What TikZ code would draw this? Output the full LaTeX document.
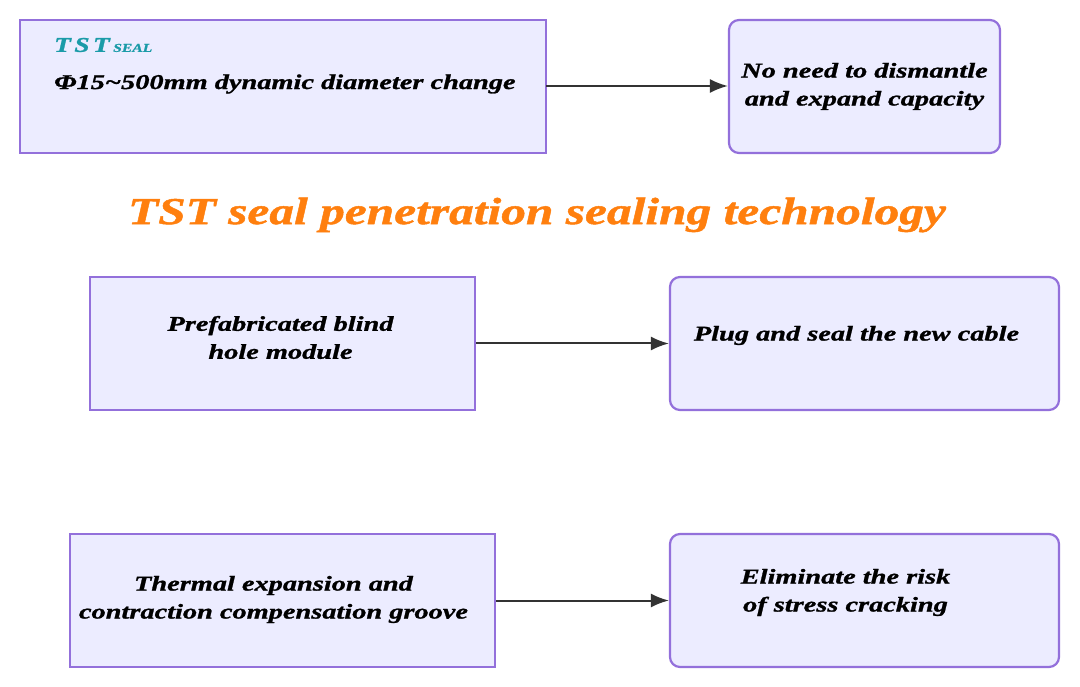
\documentclass[tikz,border=0pt]{standalone}
\usepackage{fontspec}
\setmainfont{Liberation Serif}
\newfontfamily\wide[FakeStretch=1.35,FakeBold=1.2]{Liberation Serif}
\newfontfamily\widet[FakeStretch=1.3,FakeBold=1.2]{Liberation Serif}
\usetikzlibrary{arrows.meta}
\begin{document}
\begin{tikzpicture}[x=1pt,y=-1pt,
 box/.style={draw=boxline,fill=boxfill,line width=2.2pt,inner sep=0pt},
 rbox/.style={box,rounded corners=10pt},
 lbl/.style={font=\wide\fontsize{21}{28}\selectfont\bfseries\itshape,align=center,text=black},
 arr/.style={draw=arrc,line width=2pt,-{Latex[length=18pt,width=14pt]}}]
\definecolor{boxline}{HTML}{9370DB}
\definecolor{boxfill}{HTML}{ECECFF}
\definecolor{arrc}{HTML}{333333}
\definecolor{orng}{HTML}{FF7F0E}
\definecolor{teal1}{HTML}{1A9BA8}
\useasboundingbox (0,0) rectangle (1080,687);
\draw[box] (20,20) rectangle (546,153);
\coordinate (Ar) at (546,86);
\node[anchor=west,font=\widet\fontsize{21}{24}\selectfont\bfseries\itshape,text=teal1,inner sep=0pt] (logo) at (54,45) {T\,S\,T\,{\fontsize{12}{14}\selectfont SEAL}};
\node[lbl,anchor=west,inner sep=0pt] (at) at (54,84) {Φ15\textasciitilde500mm dynamic diameter change};
\node[rbox,minimum width=271pt,minimum height=133pt] (B) at (864.5,86.5) {};
\node[lbl] at (B) {No need to dismantle\\and expand capacity};
\draw[arr] (Ar) -- (B.west |- Ar);
\node[font=\widet\fontsize{38}{40}\selectfont\bfseries\itshape,text=orng] (title) at (537,215) {TST seal penetration sealing technology};
\node[box,minimum width=385pt,minimum height=133pt] (C) at (282.5,343.5) {};
\node[lbl] at ([xshift=-2pt,yshift=6pt]C) {Prefabricated blind\\hole module};
\node[rbox,minimum width=389pt,minimum height=133pt] (D) at (864.5,343.5) {};
\node[lbl] at ([xshift=-8pt,yshift=8pt]D) {Plug and seal the new cable};
\draw[arr] (C) -- (D);
\node[box,minimum width=425pt,minimum height=133pt] (E) at (282.5,600.5) {};
\node[lbl] at ([xshift=-9pt,yshift=1pt]E) {Thermal expansion and\\contraction compensation groove};
\node[rbox,minimum width=389pt,minimum height=133pt] (F) at (864.5,600.5) {};
\node[lbl] at ([xshift=-19pt,yshift=8pt]F) {Eliminate the risk\\of stress cracking};
\draw[arr] (E) -- (F);
\end{tikzpicture}
\end{document}
